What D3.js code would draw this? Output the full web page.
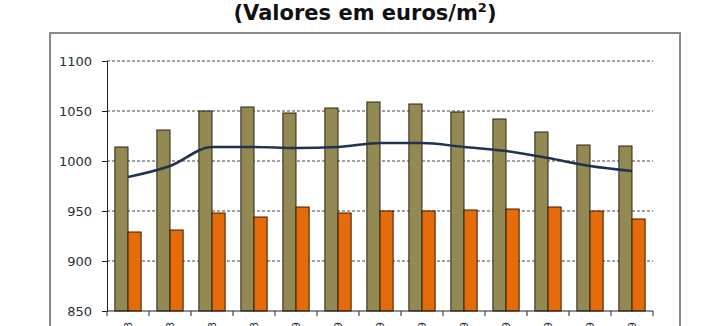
<!DOCTYPE html>
<html>
<head>
<meta charset="utf-8">
<script src="https://cdn.jsdelivr.net/npm/d3@7"></script>
<style>
  body { margin: 0; background: #fff; }
  svg { display: block; }
</style>
</head>
<body>
<svg id="chart" width="712" height="326"></svg>
<script>
// categories (labels below the axis are cut off in the picture)
const categories = ['Set-08', 'Out-08', 'Nov-08', 'Dez-08', 'Jan-09', 'Fev-09', 'Mar-09',
  'Abr-09', 'Mai-09', 'Jun-09', 'Jul-09', 'Ago-09', 'Set-09'];
const seriesA = [1014, 1031, 1050, 1054, 1048, 1053, 1059, 1057, 1049, 1042, 1029, 1016, 1015];
const seriesB = [929, 931, 948, 944, 954, 948, 950, 950, 951, 952, 954, 950, 942];
const lineValues = [984, 995, 1014, 1014, 1013, 1014, 1018, 1018, 1014, 1010, 1003, 995, 990];
const yTicks = [850, 900, 950, 1000, 1050, 1100];

const svg = d3.select('#chart');

// title
const title = svg.append('text')
  .attr('x', 365)
  .attr('y', 20)
  .attr('text-anchor', 'middle')
  .attr('font-family', 'DejaVu Sans, sans-serif')
  .attr('font-weight', 'bold')
  .attr('font-size', 21)
  .attr('fill', '#111');
title.append('tspan').text('(Valores em euros/m');
title.append('tspan').attr('dy', -8).attr('font-size', 13).text('2');
title.append('tspan').attr('dy', 8).text(')');

// outer frame
svg.append('rect')
  .attr('x', 50)
  .attr('y', 33)
  .attr('width', 630)
  .attr('height', 320)
  .attr('fill', 'none')
  .attr('stroke', '#8a8a8a')
  .attr('stroke-width', 2);

const x = d3.scaleBand()
  .domain(categories)
  .range([107, 653]);

const xSub = d3.scaleBand()
  .domain(['a', 'b'])
  .range([0, x.bandwidth()])
  .paddingOuter(0.6);

const y = d3.scaleLinear()
  .domain([850, 1100])
  .range([311, 61]);

// gridlines
svg.append('g')
  .selectAll('line')
  .data(yTicks.filter(d => d > 850))
  .enter().append('line')
  .attr('x1', 107)
  .attr('x2', 653)
  .attr('y1', d => y(d))
  .attr('y2', d => y(d))
  .attr('stroke', '#444')
  .attr('stroke-width', 1)
  .attr('stroke-dasharray', '3,2');

// y axis
const yAxis = svg.append('g')
  .attr('transform', 'translate(107,0)')
  .call(d3.axisLeft(y).tickValues(yTicks).tickFormat(d3.format('d')).tickSize(5).tickPadding(10));
yAxis.select('.domain').attr('stroke', '#222');
yAxis.selectAll('.tick line').attr('stroke', '#222');
yAxis.selectAll('text')
  .attr('font-family', 'DejaVu Sans, sans-serif')
  .attr('font-size', 13)
  .attr('fill', '#2a2f38');

// bars
const groups = svg.append('g')
  .selectAll('g')
  .data(categories.map((c, i) => ({ c, a: seriesA[i], b: seriesB[i] })))
  .enter().append('g')
  .attr('transform', d => `translate(${x(d.c)},0)`);

groups.append('rect')
  .attr('x', xSub('a'))
  .attr('width', xSub.bandwidth())
  .attr('y', d => y(d.a))
  .attr('height', d => y(850) - y(d.a))
  .attr('fill', '#938953')
  .attr('stroke', '#2b2413')
  .attr('stroke-width', 1);

groups.append('rect')
  .attr('x', xSub('b'))
  .attr('width', xSub.bandwidth())
  .attr('y', d => y(d.b))
  .attr('height', d => y(850) - y(d.b))
  .attr('fill', '#e46c0a')
  .attr('stroke', '#3a1a05')
  .attr('stroke-width', 1);

// x axis
const xAxis = svg.append('g')
  .attr('transform', 'translate(0,311)');
xAxis.append('line')
  .attr('x1', 107).attr('x2', 653)
  .attr('stroke', '#222');
xAxis.selectAll('.tk')
  .data(categories.concat(['end']))
  .enter().append('line')
  .attr('class', 'tk')
  .attr('x1', (d, i) => x.range()[0] + i * x.step())
  .attr('x2', (d, i) => x.range()[0] + i * x.step())
  .attr('y1', 0).attr('y2', 5)
  .attr('stroke', '#222');
xAxis.selectAll('text')
  .data(categories)
  .enter().append('text')
  .attr('transform', d => `translate(${x(d) + x.bandwidth() / 2 + 4},11) rotate(-90)`)
  .attr('text-anchor', 'end')
  .attr('font-family', 'DejaVu Sans, sans-serif')
  .attr('font-size', 11)
  .attr('fill', '#2a2f38')
  .text(d => d);

// smoothed line
const line = d3.line()
  .x((d, i) => x(categories[i]) + x.bandwidth() / 2)
  .y(d => y(d))
  .curve(d3.curveMonotoneX);

svg.append('path')
  .datum(lineValues)
  .attr('d', line)
  .attr('fill', 'none')
  .attr('stroke', '#1f3350')
  .attr('stroke-width', 2.5);
</script>
</body>
</html>
